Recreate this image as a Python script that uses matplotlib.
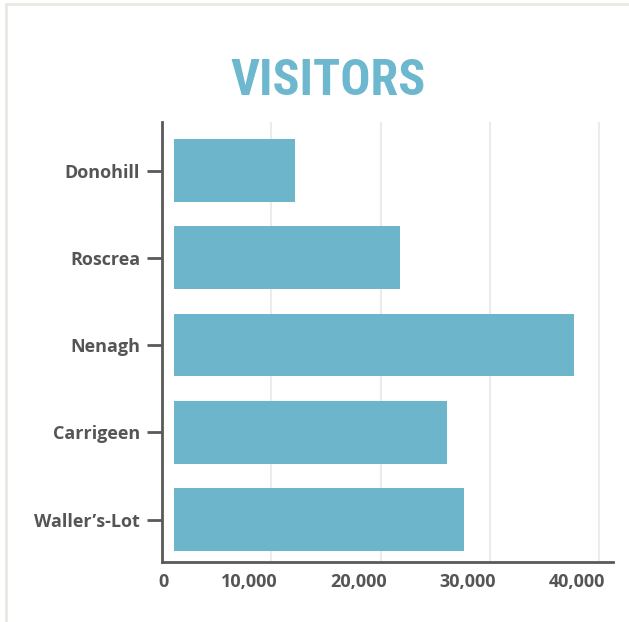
import matplotlib
matplotlib.use("Agg")
import matplotlib.pyplot as plt
import matplotlib.font_manager as fm
from matplotlib.lines import Line2D
from matplotlib.ticker import FuncFormatter
from matplotlib.transforms import ScaledTranslation

# data
towns = ["Donohill", "Roscrea", "Nenagh", "Carrigeen", "Waller\u2019s-Lot"]
visitors = [12200, 21800, 37700, 26100, 27600]
x_ticks = [0, 10000, 20000, 30000, 40000]

bar_color = "#6db5cb"
text_gray = "#555555"
axis_gray = "#5a5a5a"
grid_gray = "#ebebeb"


def title_font():
    # the original title uses a condensed face, so look for a narrow one
    for key in ("LiberationSansNarrow-Bold.", "RobotoCondensed-Bold",
                "DejaVuSansCondensed-Bold."):
        for f in fm.fontManager.ttflist:
            if key in f.fname:
                return fm.FontProperties(fname=f.fname)
    return fm.FontProperties(family="Roboto", weight="bold")


fig = plt.figure(figsize=(6.29, 6.22), dpi=100)
ax = fig.add_axes([0.258, 0.096, 0.716, 0.708])

# bars start a little off the axis line, like the original
bar_start = 1070
ypos = list(range(len(towns)))
ax.barh(ypos, [v - bar_start for v in visitors], left=bar_start,
        height=0.72, color=bar_color, zorder=2)

ax.set_xlim(0, 41250)
ax.set_ylim(4.49, -0.557)
ax.set_yticks(ypos)
ax.set_yticklabels(towns)
ax.set_xticks(x_ticks)
ax.xaxis.set_major_formatter(FuncFormatter(lambda v, p: f"{int(v):,}"))

for t in x_ticks[1:]:
    ax.axvline(t, color=grid_gray, lw=1.5, zorder=0)

for side in ["top", "right"]:
    ax.spines[side].set_visible(False)
for side in ["left", "bottom"]:
    ax.spines[side].set_color(axis_gray)
    ax.spines[side].set_linewidth(2)

ax.tick_params(axis="y", length=11, width=2, color=axis_gray, pad=5)
ax.tick_params(axis="x", length=0, pad=8)
for lab in ax.get_yticklabels() + ax.get_xticklabels():
    lab.set_family(["Open Sans", "DejaVu Sans"])
    lab.set_weight("bold")
    lab.set_fontsize(13)
    lab.set_color(text_gray)

# x labels sit right-aligned just past their gridline in the original
shift = ScaledTranslation(6 / 100, 0, fig.dpi_scale_trans)
for lab in ax.get_xticklabels():
    lab.set_ha("right")
    lab.set_transform(lab.get_transform() + shift)

title = fig.text(0.5224, 1 - 95 / 622, "VISITORS", ha="center", va="baseline",
                 fontproperties=title_font(), fontsize=40, color="#6db8cf")
# fit the title to its width in the reference (about 195 px)
fig.canvas.draw()
w = title.get_window_extent().width
title.set_fontsize(40 * 195 / w)

# light frame on the left and top edges
frame_col = "#e9e9e4"
fig.add_artist(Line2D([6.5 / 629, 6.5 / 629], [0, 1 - 3.5 / 622],
                      transform=fig.transFigure, color=frame_col, lw=2))
fig.add_artist(Line2D([5.5 / 629, 1], [1 - 3.5 / 622, 1 - 3.5 / 622],
                      transform=fig.transFigure, color=frame_col, lw=2))

fig.savefig("out.png", dpi=100)
